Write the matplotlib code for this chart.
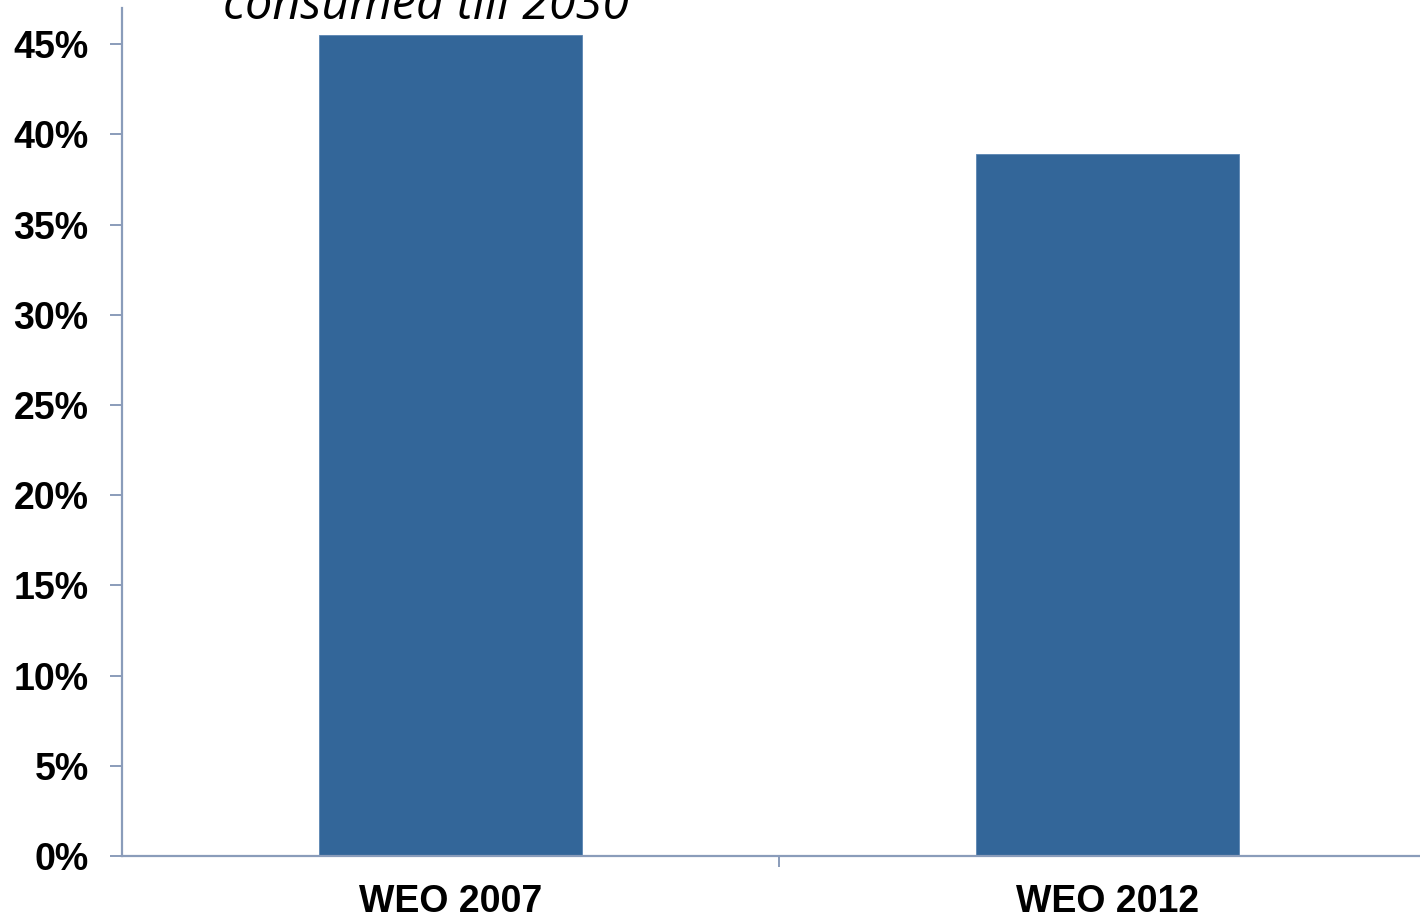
import matplotlib
matplotlib.use('Agg')
import matplotlib.pyplot as plt
from matplotlib.ticker import FixedLocator, PercentFormatter

categories = ['WEO 2007', 'WEO 2012']
values = [45.5, 38.9]
y_ticks = [0, 5, 10, 15, 20, 25, 30, 35, 40, 45]

axis_col = '#8a9cba'
bar_col = '#336699'

fig = plt.figure(figsize=(14.2, 9.16), dpi=100)
ax = fig.add_axes([122 / 1420, 60 / 916, 1314 / 1420, 848 / 916])

x = list(range(len(categories)))
ax.bar(x, values, width=0.4, color=bar_col, edgecolor='#5a85b3', linewidth=0.6)

ax.set_xlim(-0.5, 1.5)
ax.set_ylim(0, 47)

for s in ['top', 'right']:
    ax.spines[s].set_visible(False)
for s in ['left', 'bottom']:
    ax.spines[s].set_color(axis_col)
    ax.spines[s].set_linewidth(1.6)

ax.set_yticks(y_ticks)
ax.yaxis.set_major_formatter(PercentFormatter(decimals=0))
ax.tick_params(axis='y', direction='out', length=9, width=1.4, color=axis_col, pad=15)
for lab in ax.get_yticklabels():
    lab.set_fontfamily('Liberation Sans')
    lab.set_fontweight('bold')
    lab.set_fontsize(27)

ax.set_xticks(x)
ax.set_xticklabels(categories, fontfamily='Liberation Sans', fontweight='bold', fontsize=27)
ax.tick_params(axis='x', which='major', length=0, pad=20)
ax.xaxis.set_minor_locator(FixedLocator([0.5]))
ax.tick_params(axis='x', which='minor', direction='out', length=8, width=1.4, color=axis_col)

fig.text(426 / 1420, 1 - 19 / 916, 'consumed till 2030', fontfamily='Open Sans',
         style='italic', fontsize=35, ha='center', va='baseline')

fig.savefig('out.png', dpi=100)
